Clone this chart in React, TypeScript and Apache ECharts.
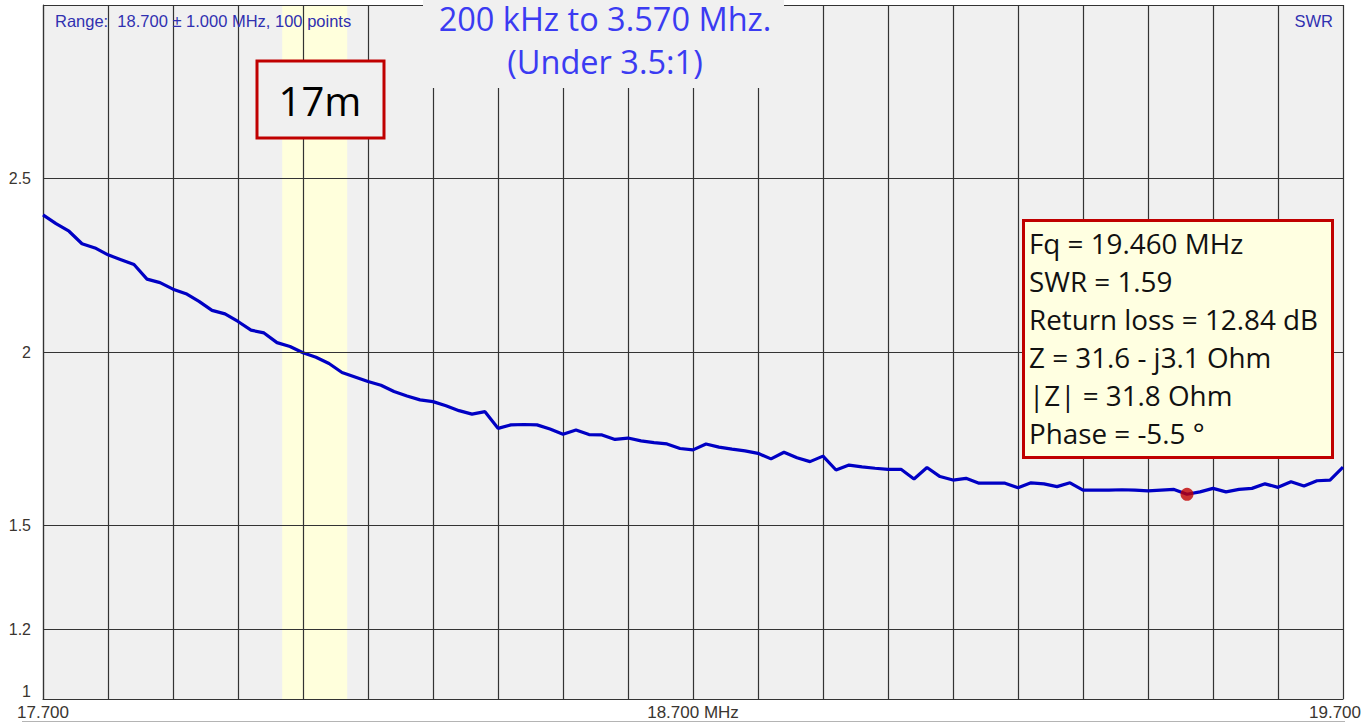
import React, { useEffect, useRef } from "react";
import * as echarts from "echarts";

// Sweep: 18.700 ± 1.000 MHz, 100 steps
const START_MHZ = 17.7;
const STEP_MHZ = 0.02;

const SWR_VALUES = [
  2.395, 2.37, 2.348, 2.312, 2.3, 2.28, 2.266, 2.252, 2.21, 2.2,
  2.181, 2.168, 2.146, 2.12, 2.11, 2.088, 2.063, 2.055, 2.027, 2.016,
  1.998, 1.985, 1.967, 1.941, 1.928, 1.915, 1.904, 1.886, 1.873, 1.862,
  1.857, 1.845, 1.831, 1.821, 1.828, 1.78, 1.79, 1.791, 1.79, 1.778,
  1.763, 1.775, 1.762, 1.761, 1.748, 1.752, 1.744, 1.739, 1.735, 1.722,
  1.718, 1.735, 1.726, 1.72, 1.715, 1.708, 1.692, 1.711, 1.695, 1.684,
  1.7, 1.66, 1.674, 1.669, 1.665, 1.662, 1.662, 1.634, 1.667, 1.641,
  1.631, 1.636, 1.622, 1.622, 1.622, 1.609, 1.623, 1.62, 1.612, 1.623,
  1.602, 1.602, 1.602, 1.603, 1.602, 1.6, 1.602, 1.604, 1.59, 1.597,
  1.607, 1.597, 1.604, 1.607, 1.62, 1.61, 1.626, 1.614, 1.629, 1.631,
  1.668,
];

const FREQS = SWR_VALUES.map((_, i) => +(START_MHZ + i * STEP_MHZ).toFixed(2));

const X_MIN = 17.7;
const X_MAX = 19.7;
const Y_MIN = 1;
const Y_MAX = 3;

const X_TICK_LABELS: [number, string][] = [
  [17.7, "17.700"],
  [18.7, "18.700 MHz"],
  [19.7, "19.700"],
];
const Y_TICK_LABELS = [1, 1.2, 1.5, 2, 2.5];
const SWR_GRID = [1.2, 1.5, 2, 2.5];

// 17 m amateur band
const BAND_START = 18.068;
const BAND_END = 18.168;
const BAND_NAME = "17m";

// Cursor readout
const MARKER_FQ = 19.46;
const MARKER_SWR = 1.59;
const RETURN_LOSS_DB = 12.84;
const Z_RE = 31.6;
const Z_IM = -3.1;
const Z_ABS = 31.8;
const PHASE_DEG = -5.5;

const TITLE_LINES = ["200 kHz to 3.570 Mhz.", "(Under 3.5:1)"];
const RANGE_TEXT = "Range:  18.700 ± 1.000 MHz, 100 points";

const near = (a: number, b: number) => Math.abs(a - b) < 1e-6;

export default function App() {
  const ref = useRef<HTMLDivElement>(null);

  useEffect(() => {
    if (!ref.current) return;
    const chart = echarts.init(ref.current, undefined, { renderer: "svg" });

    const readout = [
      `Fq = ${MARKER_FQ.toFixed(3)} MHz`,
      `SWR = ${MARKER_SWR.toFixed(2)}`,
      `Return loss = ${RETURN_LOSS_DB.toFixed(2)} dB`,
      `Z = ${Z_RE.toFixed(1)} ${Z_IM < 0 ? "-" : "+"} j${Math.abs(Z_IM).toFixed(1)} Ohm`,
      `|Z| = ${Z_ABS.toFixed(1)} Ohm`,
      `Phase = ${PHASE_DEG.toFixed(1)} °`,
    ].join("\n");

    const gridColor = "#333333";
    const labelFont = "'Liberation Sans', Arial, sans-serif";
    const labelColor = "#3a3530";

    chart.setOption({
      animation: false,
      backgroundColor: "#ffffff",
      grid: {
        left: 43,
        right: 29,
        top: 5,
        bottom: 24,
        show: true,
        backgroundColor: "#f0f0f0",
        borderWidth: 0,
      },
      xAxis: {
        type: "value",
        min: X_MIN,
        max: X_MAX,
        interval: 0.1,
        z: 2,
        axisLine: { show: true, lineStyle: { color: gridColor, width: 1.2 } },
        axisTick: { show: false },
        splitLine: { show: true, lineStyle: { color: gridColor, width: 1.2 } },
        axisLabel: {
          margin: 5,
          color: labelColor,
          fontFamily: labelFont,
          fontSize: 17,
          showMinLabel: true,
          showMaxLabel: true,
          formatter: (v: number) => {
            const hit = X_TICK_LABELS.find(([x]) => near(x, v));
            if (!hit) return "";
            if (near(hit[0], X_MAX)) return `{r|${hit[1]}}`;
            return hit[1];
          },
          rich: {
            r: {
              color: labelColor,
              fontFamily: labelFont,
              fontSize: 17,
              padding: [0, 16, 0, 0],
            },
          },
        },
      },
      yAxis: {
        type: "value",
        min: Y_MIN,
        max: Y_MAX,
        interval: 0.1,
        z: 2,
        axisLine: { show: true, lineStyle: { color: gridColor, width: 1.2 } },
        axisTick: { show: false },
        splitLine: { show: false },
        axisLabel: {
          margin: 12,
          color: labelColor,
          fontFamily: labelFont,
          fontSize: 16,
          verticalAlignMinLabel: "bottom",
          formatter: (v: number) =>
            Y_TICK_LABELS.some((t) => near(t, v)) ? String(+v.toFixed(1)) : "",
        },
      },
      series: [
        {
          name: "band",
          type: "line",
          data: [],
          z: 1,
          silent: true,
          markArea: {
            silent: true,
            itemStyle: { color: "#ffffdc" },
            data: [[{ xAxis: BAND_START }, { xAxis: BAND_END }]],
          },
        },
        {
          name: "grid",
          type: "line",
          data: [],
          z: 2,
          silent: true,
          markLine: {
            silent: true,
            symbol: "none",
            label: { show: false },
            lineStyle: { color: gridColor, width: 1.2, type: "solid" },
            data: [...SWR_GRID, Y_MAX].map((v) => ({ yAxis: v })),
          },
        },
        {
          name: "SWR",
          type: "line",
          z: 3,
          data: FREQS.map((f, i) => [f, SWR_VALUES[i]]),
          showSymbol: false,
          symbol: "none",
          lineStyle: { color: "#0000c4", width: 3.2 },
        },
        {
          name: "cursor",
          type: "scatter",
          z: 4,
          data: [[MARKER_FQ, MARKER_SWR]],
          symbolSize: 13,
          itemStyle: { color: "#c00000" },
        },
      ],
      graphic: [
        {
          type: "text",
          z: 100,
          left: 55,
          top: 12,
          style: {
            text: RANGE_TEXT,
            fill: "#3030b0",
            font: `16.5px ${labelFont}`,
          },
        },
        {
          type: "text",
          z: 100,
          right: 39,
          top: 12,
          style: {
            text: "SWR",
            fill: "#3030b0",
            font: `16.5px ${labelFont}`,
          },
        },
        {
          type: "rect",
          z: 100,
          shape: { x: 423, y: 0, width: 361, height: 88 },
          style: { fill: "#f0f0f0" },
        },
        {
          type: "text",
          z: 101,
          x: 605,
          y: 18,
          style: {
            text: TITLE_LINES[0],
            fill: "#3b3bf2",
            font: "32.5px 'Open Sans', sans-serif",
            align: "center",
            verticalAlign: "middle",
          },
        },
        {
          type: "text",
          z: 101,
          x: 605,
          y: 61,
          style: {
            text: TITLE_LINES[1],
            fill: "#3b3bf2",
            font: "32.5px 'Open Sans', sans-serif",
            align: "center",
            verticalAlign: "middle",
          },
        },
        {
          type: "rect",
          z: 100,
          shape: { x: 257, y: 61, width: 127, height: 77 },
          style: { fill: "#f0f0f0", stroke: "#c00000", lineWidth: 3 },
        },
        {
          type: "text",
          z: 101,
          x: 320,
          y: 100,
          style: {
            text: BAND_NAME,
            fill: "#000000",
            font: "40px 'Open Sans', sans-serif",
            align: "center",
            verticalAlign: "middle",
          },
        },
        {
          type: "rect",
          z: 100,
          shape: { x: 1023.5, y: 220.5, width: 309, height: 237 },
          style: { fill: "#ffffe1", stroke: "#c00000", lineWidth: 3 },
        },
        {
          type: "text",
          z: 101,
          x: 1029,
          y: 224,
          style: {
            text: readout,
            fill: "#111111",
            font: "27.8px 'Open Sans', sans-serif",
            lineHeight: 38,
            align: "left",
            verticalAlign: "top",
          },
        },
        {
          type: "line",
          z: 100,
          shape: { x1: 22, y1: 721.5, x2: 1345, y2: 721.5 },
          style: { stroke: "#b4b4b4", lineWidth: 1 },
        },
      ],
    });

    return () => chart.dispose();
  }, []);

  return (
    <div
      ref={ref}
      style={{ position: "fixed", left: 0, top: 0, width: 1372, height: 723 }}
    />
  );
}
